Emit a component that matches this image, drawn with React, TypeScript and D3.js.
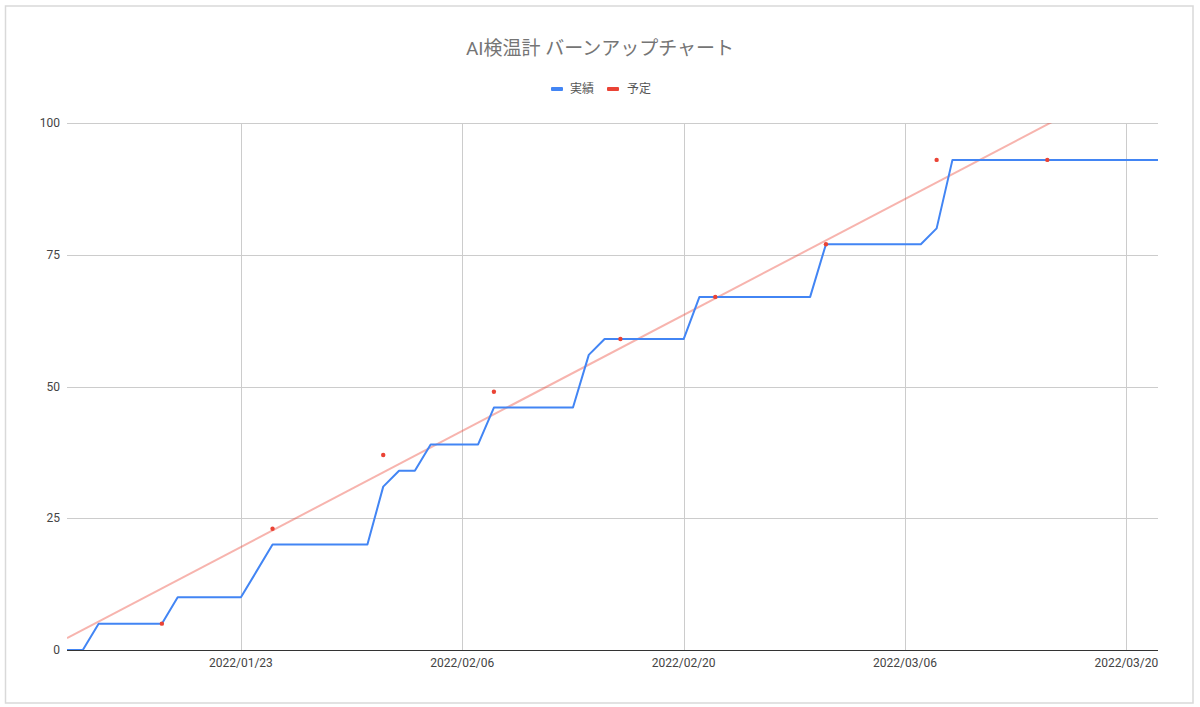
import { useMemo } from "react";
import * as d3 from "d3";

// 実績 (actual) — vertices of the burn-up line
const actualDates = [
  "2022-01-12", "2022-01-13", "2022-01-14", "2022-01-18", "2022-01-19",
  "2022-01-23", "2022-01-25", "2022-01-31", "2022-02-01", "2022-02-02",
  "2022-02-03", "2022-02-04", "2022-02-07", "2022-02-08", "2022-02-13",
  "2022-02-14", "2022-02-15", "2022-02-20", "2022-02-21", "2022-02-28",
  "2022-03-01", "2022-03-07", "2022-03-08", "2022-03-09", "2022-03-22",
];
const actualValues = [
  0, 0, 5, 5, 10,
  10, 20, 20, 31, 34,
  34, 39, 39, 46, 46,
  56, 59, 59, 67, 67,
  77, 77, 80, 93, 93,
];

// 予定 (plan) — scattered points, trendline fitted through them
const planDates = [
  "2022-01-18", "2022-01-25", "2022-02-01", "2022-02-08", "2022-02-16",
  "2022-02-22", "2022-03-01", "2022-03-08", "2022-03-15",
];
const planValues = [5, 23, 37, 49, 59, 67, 77, 93, 93];

const xTickDates = ["2022-01-23", "2022-02-06", "2022-02-20", "2022-03-06", "2022-03-20"];
const yTicks = [0, 25, 50, 75, 100];
const domainStart = "2022-01-12";
const domainEnd = "2022-03-22";

const TITLE = "AI検温計 バーンアップチャート";
const FONT = "Roboto, 'Noto Sans CJK JP', Arial, sans-serif";

const parse = (s: string): Date => {
  const [y, m, d] = s.split("-").map(Number);
  return new Date(y, m - 1, d);
};

export default function App(): JSX.Element {
  const W = 1200;
  const H = 707;
  const left = 67;
  const right = 1158;
  const top = 123;
  const bottom = 650;

  const x = d3.scaleTime().domain([parse(domainStart), parse(domainEnd)]).range([left, right]);
  const y = d3.scaleLinear().domain([0, 100]).range([bottom, top]);

  const actual = actualDates.map((d, i) => ({ date: parse(d), v: actualValues[i] }));
  const plan = planDates.map((d, i) => ({ date: parse(d), v: planValues[i] }));

  // Linear trendline (least squares on time) like the spreadsheet does.
  const trend = useMemo(() => {
    const xs = plan.map((p) => +p.date);
    const ys = plan.map((p) => p.v);
    const mx = d3.mean(xs) as number;
    const my = d3.mean(ys) as number;
    let sxy = 0;
    let sxx = 0;
    xs.forEach((xv, i) => {
      sxy += (xv - mx) * (ys[i] - my);
      sxx += (xv - mx) * (xv - mx);
    });
    const slope = sxy / sxx;
    const t0 = +parse(domainStart);
    const t1 = +parse(domainEnd);
    return [
      { t: t0, v: my + slope * (t0 - mx) },
      { t: t1, v: my + slope * (t1 - mx) },
    ];
  }, []);

  const line = d3
    .line<{ date: Date; v: number }>()
    .x((d) => x(d.date))
    .y((d) => y(d.v));

  const trendLine = d3
    .line<{ t: number; v: number }>()
    .x((d) => x(new Date(d.t)))
    .y((d) => y(d.v));

  const fmt = d3.timeFormat("%Y/%m/%d");

  return (
    <svg
      width={W}
      height={H}
      style={{ position: "fixed", left: 0, top: 0, background: "#fff" }}
      fontFamily={FONT}
    >
      <defs>
        <clipPath id="plot-clip">
          <rect x={left} y={top} width={right - left} height={bottom - top} />
        </clipPath>
      </defs>
      <rect x={5.5} y={6} width={1187.5} height={697} fill="#fff" stroke="#d9d9d9" strokeWidth={1.5} />

      <text x={600} y={55} textAnchor="middle" fontSize={19} fill="#757575">
        {TITLE}
      </text>

      {/* legend */}
      <g fontSize={12} fill="#555">
        <rect x={551} y={87} width={12} height={4} rx={1} fill="#4285f4" />
        <text x={570} y={93}>実績</text>
        <rect x={607} y={87} width={12} height={4} rx={1} fill="#ea4335" />
        <text x={627} y={93}>予定</text>
      </g>

      {/* grid */}
      <g stroke="#cccccc" strokeWidth={1}>
        {yTicks.filter((t) => t > 0).map((t) => (
          <line key={t} x1={left} x2={right} y1={Math.round(y(t)) + 0.5} y2={Math.round(y(t)) + 0.5} />
        ))}
        {xTickDates.map((d) => {
          const px = Math.round(x(parse(d))) + 0.5;
          return <line key={d} x1={px} x2={px} y1={top} y2={bottom} />;
        })}
      </g>

      {/* y labels */}
      <g fontSize={12} fill="#444" textAnchor="end">
        {yTicks.map((t) => (
          <text key={t} x={60} y={y(t) + 4}>
            {t}
          </text>
        ))}
      </g>

      {/* x labels */}
      <g fontSize={12} fill="#444" textAnchor="middle">
        {xTickDates.map((d) => (
          <text key={d} x={x(parse(d))} y={667}>
            {fmt(parse(d))}
          </text>
        ))}
      </g>

      <g clipPath="url(#plot-clip)">
        <path d={trendLine(trend) ?? ""} fill="none" stroke="#ea4335" strokeOpacity={0.4} strokeWidth={2} />
      </g>

      <path
        d={line(actual) ?? ""}
        fill="none"
        stroke="#4285f4"
        strokeWidth={2}
        strokeLinejoin="round"
      />

      {plan.map((p, i) => (
        <circle key={i} cx={x(p.date)} cy={y(p.v)} r={2.2} fill="#ea4335" />
      ))}

      {/* baseline */}
      <line x1={left} x2={right} y1={bottom + 0.5} y2={bottom + 0.5} stroke="#333" strokeWidth={1} />
    </svg>
  );
}
